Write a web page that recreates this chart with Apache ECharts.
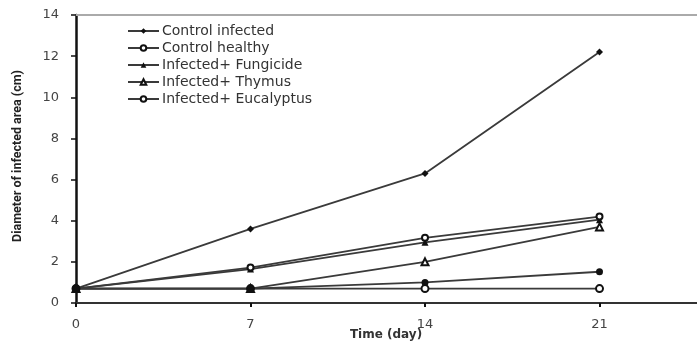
<!DOCTYPE html>
<html>
<head>
<meta charset="utf-8">
<script src="https://cdn.jsdelivr.net/npm/echarts@6/dist/echarts.min.js"></script>
<style>
  html, body { margin: 0; padding: 0; background: #fff; }
  #main { width: 697px; height: 344px; }
</style>
</head>
<body>
<div id="main"></div>
<script>
// days on the x axis
var days = [0, 7, 14, 21];
var controlInfected = [0.7, 3.6, 6.3, 12.2];
var controlHealthy = [0.7, 0.7, 0.7, 0.7];
var fungicide = [0.7, 1.65, 2.95, 4.05];
var thymus = [0.7, 0.7, 2.0, 3.7];
var eucalyptus = [0.7, 1.72, 3.17, 4.2];
var extraLine = [0.7, 0.7, 1.0, 1.52];
var legendNames = ['Control infected', 'Control healthy', 'Infected+ Fungicide', 'Infected+ Thymus', 'Infected+ Eucalyptus'];

function pairs(vals) {
  return days.map(function (d, i) { return [d, vals[i]]; });
}

function makeSeries(name, vals, symbol, size) {
  return {
    name: name,
    type: 'line',
    data: pairs(vals),
    symbol: symbol,
    symbolSize: size,
    showSymbol: true,
    lineStyle: { color: '#3a3a3a', width: 1.8 },
    itemStyle: { color: '#111', borderWidth: 1 },
    emphasis: { disabled: true },
    z: 3
  };
}

var myChart = echarts.init(document.getElementById('main'));
myChart.setOption({
  animation: false,
  backgroundColor: '#fff',
  grid: { left: 76, right: -77, top: 15, bottom: 41, containLabel: false, outerBoundsMode: 'none' },
  legend: {
    data: legendNames,
    orient: 'vertical',
    left: 122,
    top: 19,
    itemWidth: 31,
    itemHeight: 7,
    itemGap: 3,
    itemStyle: { borderWidth: 1 },
    textStyle: { fontFamily: 'DejaVu Sans', fontSize: 14, color: '#333', padding: [0, 0, 0, -2] }
  },
  xAxis: [{
    type: 'value',
    min: 0,
    max: 28,
    interval: 7,
    name: 'Time (day)',
    nameLocation: 'middle',
    nameGap: 26,
    nameMoveOverlap: false,
    nameTextStyle: { fontFamily: 'DejaVu Sans', fontSize: 12, fontWeight: 'bold', color: '#333', padding: [0, 78, 0, 0] },
    axisLine: { lineStyle: { color: '#333', width: 2 } },
    axisTick: { show: true, length: 4, lineStyle: { color: '#111', width: 2 } },
    axisLabel: { fontFamily: 'DejaVu Sans', fontSize: 13, color: '#444', margin: 15 },
    splitLine: { show: false }
  }, {
    type: 'value',
    position: 'top',
    min: 0,
    max: 28,
    axisLine: { show: true, lineStyle: { color: '#aaa', width: 2 } },
    axisTick: { show: false },
    axisLabel: { show: false },
    splitLine: { show: false }
  }],
  yAxis: {
    type: 'value',
    min: 0,
    max: 14,
    interval: 2,
    name: 'Diameter of infected area (cm)',
    nameLocation: 'middle',
    nameGap: 52,
    nameRotate: 90,
    nameTextStyle: { fontFamily: 'Roboto', fontSize: 12.5, fontWeight: 'bold', color: '#222', padding: [0, 0, 0, 6] },
    axisLine: { show: true, lineStyle: { color: '#111', width: 2.5 } },
    axisTick: { show: true, length: 5, lineStyle: { color: '#111', width: 1.5 } },
    axisLabel: { fontFamily: 'DejaVu Sans', fontSize: 13, color: '#444', margin: 17 },
    splitLine: { show: false }
  },
  series: [
    makeSeries('Control infected', controlInfected, 'diamond', 7),
    makeSeries('Control healthy', controlHealthy, 'emptyCircle', 7),
    makeSeries('Infected+ Fungicide', fungicide, 'triangle', 7),
    makeSeries('Infected+ Thymus', thymus, 'emptyTriangle', 7),
    makeSeries('Infected+ Eucalyptus', eucalyptus, 'emptyCircle', 6),
    makeSeries('', extraLine, 'circle', 7)
  ]
});
</script>
</body>
</html>
